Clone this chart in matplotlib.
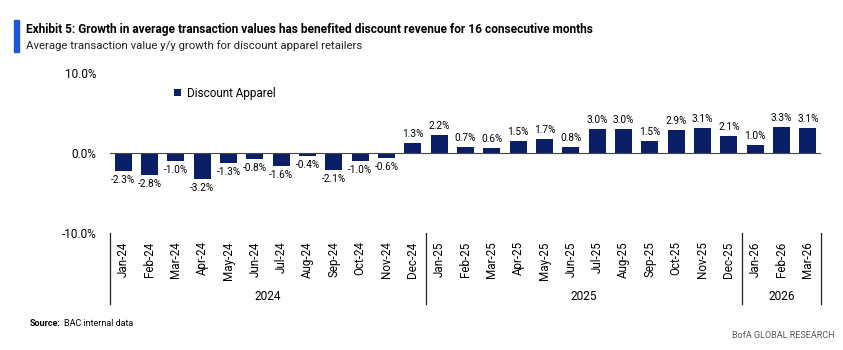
import matplotlib
matplotlib.use("Agg")
from matplotlib import pyplot as plt
from matplotlib.patches import Rectangle
import numpy as np

plt.rcParams['font.family'] = ['Roboto', 'DejaVu Sans']

# Chart data
months = ["Jan-24", "Feb-24", "Mar-24", "Apr-24", "May-24", "Jun-24", "Jul-24",
          "Aug-24", "Sep-24", "Oct-24", "Nov-24", "Dec-24",
          "Jan-25", "Feb-25", "Mar-25", "Apr-25", "May-25", "Jun-25", "Jul-25",
          "Aug-25", "Sep-25", "Oct-25", "Nov-25", "Dec-25",
          "Jan-26", "Feb-26", "Mar-26"]
growth = [-2.3, -2.8, -1.0, -3.2, -1.3, -0.8, -1.6, -0.4, -2.1, -1.0, -0.6, 1.3,
          2.2, 0.7, 0.6, 1.5, 1.7, 0.8, 3.0, 3.0, 1.5, 2.9, 3.1, 2.1,
          1.0, 3.3, 3.1]
years = ["2024", "2025", "2026"]
year_counts = [12, 12, 3]

navy = "#0b1f66"

fig = plt.figure(figsize=(8.43, 3.5), dpi=100)
ax = fig.add_axes([0.1305, 0.3343, 0.8435, 0.4571])

x = np.arange(len(months))
ax.bar(x, growth, width=0.64, color=navy, label="Discount Apparel", zorder=2)

# value labels
for xi, v in zip(x, growth):
    if v >= 0:
        ax.text(xi, v + 0.5, f"{v:.1f}%", ha="center", va="bottom", fontsize=7.3)
    else:
        ax.text(xi, v - 0.5, f"{v:.1f}%", ha="center", va="top", fontsize=7.3)

ax.set_xlim(-0.5, len(months) - 0.5)
ax.set_ylim(-10, 10)
ax.set_yticks([-10, 0, 10])
ax.set_yticklabels(["-10.0%", "0.0%", "10.0%"], fontsize=8.5)
ax.tick_params(axis="y", length=0, pad=10)
for s in ["top", "right", "left", "bottom"]:
    ax.spines[s].set_visible(False)
ax.axhline(0, color="#444444", lw=0.8, zorder=3)

# month labels under the axis
ax.set_xticks(x)
ax.set_xticklabels(months, rotation=90, fontsize=8.4)
ax.tick_params(axis="x", length=0, pad=6)

# year group separators and labels
bounds = np.concatenate([[0], np.cumsum(year_counts)]) - 0.5
for b in bounds:
    ax.plot([b, b], [-10, -18.9], color="#222222", lw=0.9, clip_on=False)
start = 0
for yr, n in zip(years, year_counts):
    ax.text(start + n / 2 - 0.5, -18.0, yr, ha="center", va="center", fontsize=8.6)
    start += n

leg = ax.legend(loc="upper left", bbox_to_anchor=(0.075, 0.98), frameon=False,
                fontsize=8.5, handlelength=0.6, handleheight=0.6, handletextpad=0.5)

# titles and footer
fig.patches.append(Rectangle((14 / 843, 1 - 52 / 350), 5 / 843, 32 / 350,
                             transform=fig.transFigure, color="#1e55d6"))
fig.text(26 / 843, 1 - 30 / 350, "Exhibit 5: Growth in average transaction values has benefited discount revenue for 16 consecutive months",
         fontsize=8.6, fontweight="bold", va="center")
fig.text(26 / 843, 1 - 46 / 350, "Average transaction value y/y growth for discount apparel retailers",
         fontsize=8.2, va="center", color="#222222")
src = fig.text(30 / 843, 1 - 324 / 350, "Source:", fontsize=6.5, fontweight="bold", va="center")
fig.canvas.draw()
bb = src.get_window_extent()
fig.text((bb.x1 + 3) / 843, 1 - 324 / 350, "BAC internal data", fontsize=6.5, va="center")
fig.text(835 / 843, 1 - 336 / 350, "BofA GLOBAL RESEARCH", fontsize=6.5, va="center", ha="right",
         color="#555555")

fig.savefig("out.png", dpi=100)
